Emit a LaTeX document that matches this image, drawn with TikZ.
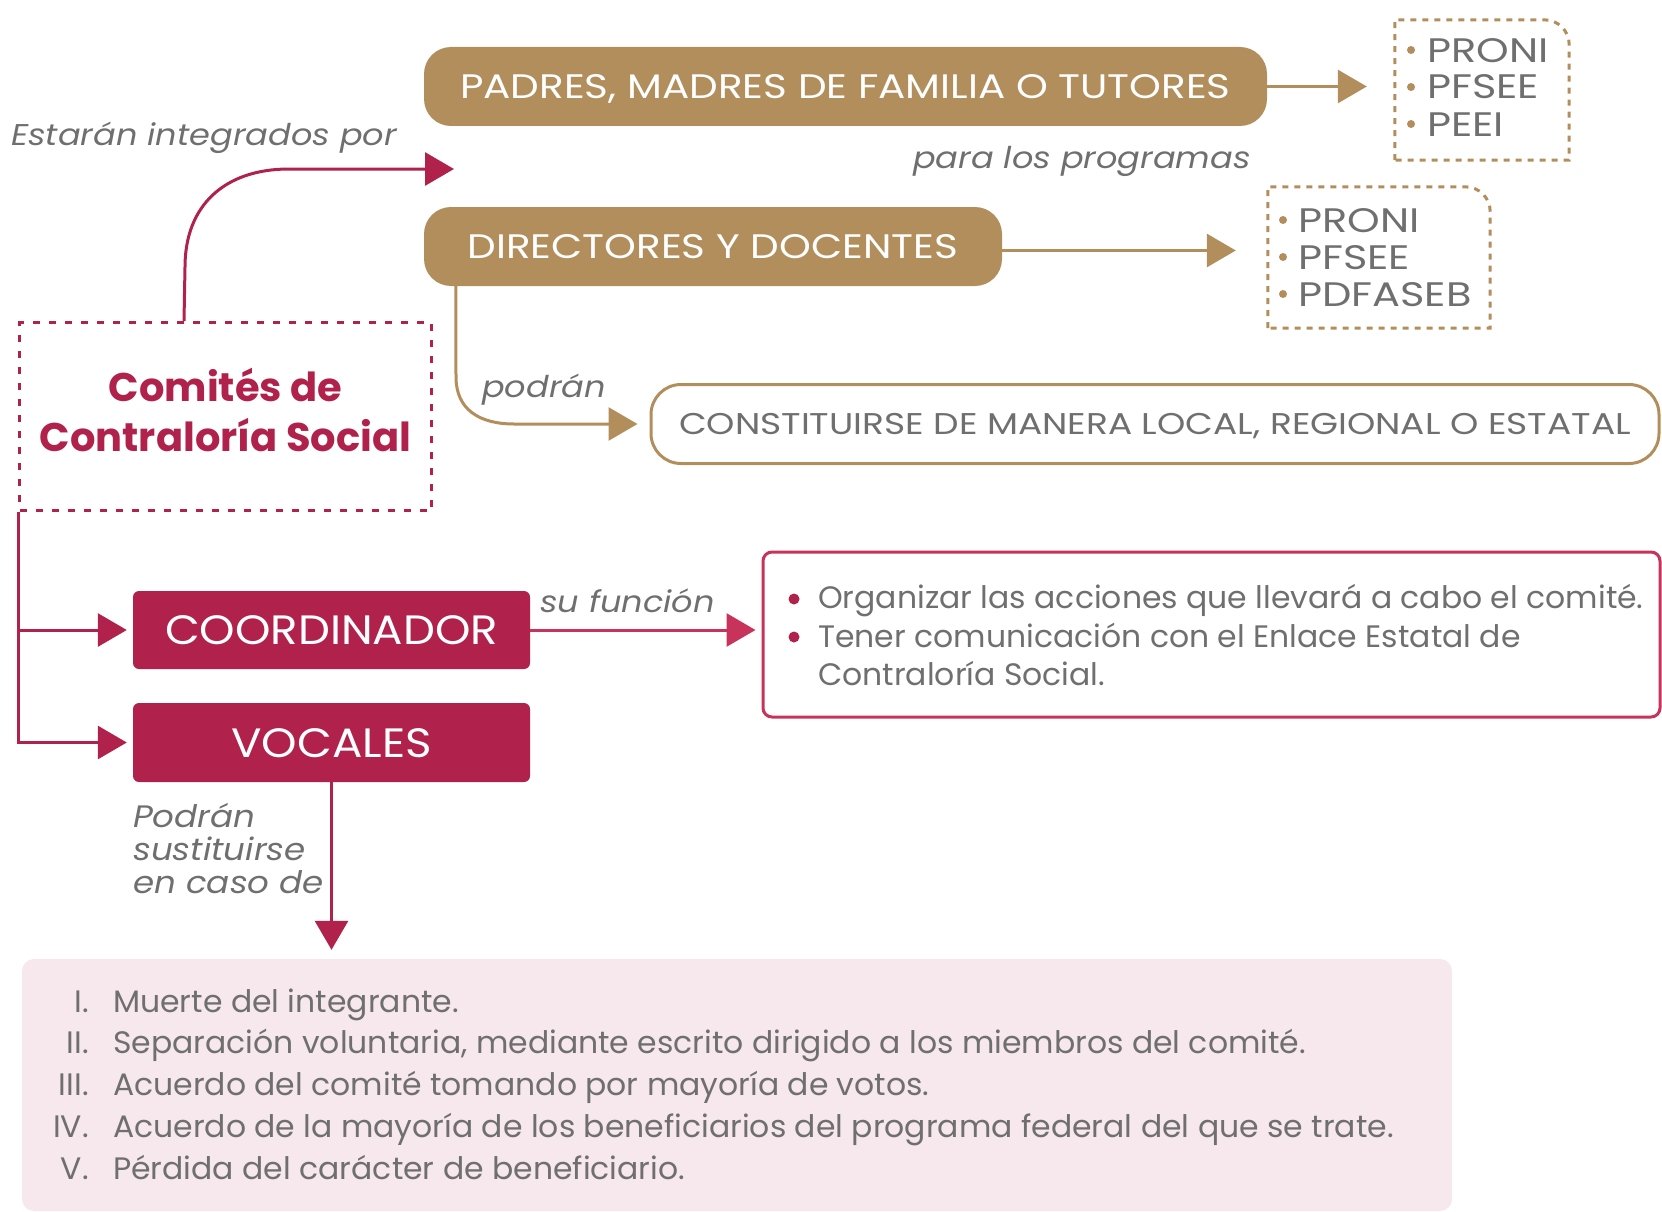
\documentclass[tikz,border=0pt]{standalone}
\usepackage{fontspec}
\setmainfont{Poppins}
\usetikzlibrary{arrows.meta}
\definecolor{gold}{HTML}{B38E5D}
\definecolor{crim}{HTML}{B0224B}
\definecolor{rose}{HTML}{C8335C}
\definecolor{gtext}{HTML}{6F6F6F}
\definecolor{pinkbg}{HTML}{F6E8ED}
\newcommand{\fsz}[2]{\fontsize{#1}{#2}\selectfont}
\newcommand{\wide}[1]{\addfontfeatures{FakeStretch=#1}}
\begin{document}
\begin{tikzpicture}[x=1pt,y=-1pt,
  bigtip/.style={-{Triangle[length=29pt,width=33pt]}},
  goldline/.style={draw=gold,line width=3pt,bigtip},
  crimline/.style={draw=crim,line width=3pt,bigtip},
  roseline/.style={draw=rose,line width=3pt,bigtip},
  goldbox/.style={fill=gold,rounded corners=27pt,inner sep=0pt,text=white,font=\fsz{34}{40}\wide{1.19},text height=24pt,text depth=0pt},
  crimbox/.style={fill=crim,rounded corners=6pt,inner sep=0pt,text=white,font=\fsz{41}{48}\wide{1.1},text height=29pt,text depth=0pt},
  lbl/.style={inner sep=0pt,text=gtext,font=\fsz{30}{33}\itshape\wide{1.12}},
  itm/.style={inner sep=0pt,text=gtext,font=\fsz{34}{40}\wide{1.22}},
  bodytxt/.style={inner sep=0pt,text=gtext,font=\fsz{31}{38}\wide{1.015}},
  frm/.style={inner sep=0pt},
  golddash/.style={draw=gold,line width=3pt,dash pattern=on 6pt off 6pt},
]
\useasboundingbox (0,0) rectangle (1662,1212);

% gold boxes
\node[goldbox,minimum width=843pt,minimum height=79pt] (pad) at (845.5,86.5) {PADRES, MADRES DE FAMILIA O TUTORES};
\node[goldbox,minimum width=578pt,minimum height=79pt] (dir) at (713,246.5) {DIRECTORES Y DOCENTES};
\node[draw=gold,line width=3pt,rounded corners=30pt,fill=white,text=gtext,font=\fsz{30}{36}\wide{1.2},
      minimum width=1008pt,minimum height=79pt,inner sep=0pt,text height=21pt,text depth=0pt] (con) at (1155,424)
      {CONSTITUIRSE DE MANERA LOCAL, REGIONAL O ESTATAL};

% program frames
\node[frm,minimum width=174pt,minimum height=140pt] (pg1) at (1482,90) {};
\draw[golddash] (pg1.south west) -- (pg1.north west) -- ([xshift=-25pt]pg1.north east)
  .. controls ([xshift=-11pt]pg1.north east) and ([yshift=-11pt]pg1.north east) .. ([yshift=-25pt]pg1.north east)
  -- (pg1.south east) -- cycle;
\node[frm,minimum width=222pt,minimum height=141pt] (pg2) at (1379,257.5) {};
\draw[golddash] (pg2.south west) -- (pg2.north west) -- ([xshift=-25pt]pg2.north east)
  .. controls ([xshift=-11pt]pg2.north east) and ([yshift=-11pt]pg2.north east) .. ([yshift=-25pt]pg2.north east)
  -- (pg2.south east) -- cycle;

\node[itm,anchor=base west] (a1) at (1427,63) {PRONI};
\node[itm,anchor=base west] (a2) at (1427,99) {PFSEE};
\node[itm,anchor=base west] (a3) at (1427,137) {PEEI};
\node[itm,anchor=base west] (b1) at (1298,232) {PRONI};
\node[itm,anchor=base west] (b2) at (1298,269) {PFSEE};
\node[itm,anchor=base west] (b3) at (1298,306) {PDFASEB};
\foreach \yy in {50,87,124} \fill[gold] (1411,\yy) circle (4pt);
\foreach \yy in {220,257,294} \fill[gold] (1283,\yy) circle (4pt);

% arrows gold
\draw[goldline,shorten >=28pt] (pad.east) -- (pad.east -| pg1.west);
\draw[goldline,shorten >=32pt] ([yshift=-4pt]dir.east) -- ([yshift=-4pt]dir.east -| pg2.west);
\draw[goldline,shorten >=12pt] ([xshift=32pt]dir.south west) -- (456,377) .. controls (456,410) and (480,424) .. (514,424) -- (con.west);

% labels
\node[lbl,anchor=base west] (est) at (11,146) {Estarán integrados por};
\node[lbl,anchor=base east] (para) at (1251,168) {para los programas};
\node[lbl,anchor=base west] (podr) at (482,397) {podrán};
\node[lbl,anchor=base west] (suf) at (540,612) {su función};
\node[lbl,anchor=base west,font=\fsz{31}{33}\itshape\wide{1.1}] (sust) at (133,827)
  {\begin{tabular}[t]{@{}l@{}}Podrán\\sustituirse\\en caso de\end{tabular}};

% comites
\node[draw=crim,line width=3pt,dash pattern=on 7pt off 9pt,minimum width=412pt,minimum height=188pt,inner sep=0pt,
      text=crim,font=\fsz{40}{50}\bfseries] (com) at (225.5,416.5)
      {\begin{tabular}{@{}c@{}}Comités de\\Contraloría Social\end{tabular}};
\coordinate (intg) at (454,169);
\draw[crimline] ([xshift=166pt]com.north west) -- (185,267) .. controls (185,205) and (225,169) .. (289,169) -- (intg);

% crimson boxes
\node[crimbox,minimum width=397pt,minimum height=78pt] (co) at (331.5,630) {COORDINADOR};
\node[crimbox,minimum width=397pt,minimum height=79pt] (vo) at (331.5,742.5) {VOCALES};
\draw[crimline,shorten >=6pt] (com.south west) |- (co.west);
\draw[crimline,shorten >=6pt] (com.south west) |- (vo.west);

% function box
\node[draw=rose,line width=3pt,rounded corners=9pt,minimum width=897pt,minimum height=165pt,inner sep=0pt] (fun) at (1211.5,634.5) {};
\draw[roseline,shorten >=6pt] (co.east) -- (co.east -| fun.west);
\node[bodytxt,anchor=base west] (f1) at (818,608) {Organizar las acciones que llevará a cabo el comité.};
\node[bodytxt,anchor=base west] (f2) at (818,647) {Tener comunicación con el Enlace Estatal de};
\node[bodytxt,anchor=base west] (f3) at (818,685) {Contraloría Social.};
\fill[crim] (794,599) circle (5.5pt);
\fill[crim] (794,637) circle (5.5pt);

% causes box
\node[fill=pinkbg,rounded corners=12pt,minimum width=1430pt,minimum height=252pt,inner sep=0pt] (causes) at (737,1085) {};
\draw[crimline,shorten >=9pt] (vo.south) -- (vo.south |- causes.north);
\node[bodytxt,anchor=base east] (n1) at (89,1012) {I.};
\node[bodytxt,anchor=base east] (n2) at (89,1053) {II.};
\node[bodytxt,anchor=base east] (n3) at (89,1095) {III.};
\node[bodytxt,anchor=base east] (n4) at (89,1137) {IV.};
\node[bodytxt,anchor=base east] (n5) at (89,1179) {V.};
\node[bodytxt,anchor=base west] (t1) at (113,1012) {Muerte del integrante.};
\node[bodytxt,anchor=base west] (t2) at (113,1053) {Separación voluntaria, mediante escrito dirigido a los miembros del comité.};
\node[bodytxt,anchor=base west] (t3) at (113,1095) {Acuerdo del comité tomando por mayoría de votos.};
\node[bodytxt,anchor=base west] (t4) at (113,1137) {Acuerdo de la mayoría de los beneficiarios del programa federal del que se trate.};
\node[bodytxt,anchor=base west] (t5) at (113,1179) {Pérdida del carácter de beneficiario.};
\end{tikzpicture}
\end{document}
